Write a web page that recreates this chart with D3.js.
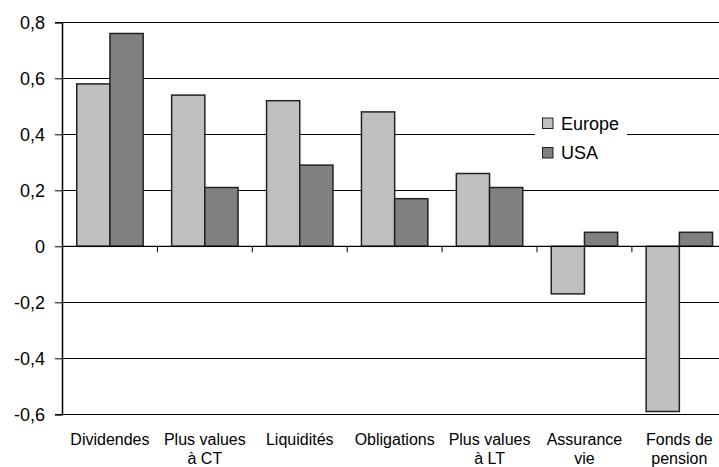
<!DOCTYPE html>
<html>
<head>
<meta charset="utf-8">
<script src="https://cdn.jsdelivr.net/npm/d3@7"></script>
<style>
  html, body { margin: 0; padding: 0; background: #fff; }
  svg { display: block; font-family: "Liberation Sans", Arial, sans-serif; }
</style>
</head>
<body>
<svg id="chart" width="719" height="467"></svg>
<script>
const categories = [
  ["Dividendes"],
  ["Plus values", "à CT"],
  ["Liquidités"],
  ["Obligations"],
  ["Plus values", "à LT"],
  ["Assurance", "vie"],
  ["Fonds de", "pension"]
];
const seriesNames = ["Europe", "USA"];
const europe = [0.58, 0.54, 0.52, 0.48, 0.26, -0.17, -0.59];
const usa    = [0.76, 0.21, 0.29, 0.17, 0.21, 0.05, 0.05];
const yTicks = [0.8, 0.6, 0.4, 0.2, 0, -0.2, -0.4, -0.6];
const colors = ["#c0c0c0", "#808080"];

const svg = d3.select("#chart");
const x0 = 62.5, step = 94.9;
const x = d3.scaleBand()
  .domain(d3.range(categories.length))
  .range([x0, x0 + step * categories.length])
  .paddingInner(0).paddingOuter(0);
const xs = d3.scaleBand().domain([0, 1]).range([14.25, step - 14.25]);
const y = d3.scaleLinear().domain([-0.6, 0.8]).range([414.3, 22.3]);

const fmt = v => v === 0 ? "0" : d3.format(".1f")(v).replace(".", ",").replace("−", "-");

// gridlines
svg.append("g").selectAll("line").data(yTicks).join("line")
  .attr("x1", x0).attr("x2", 719)
  .attr("y1", d => Math.round(y(d)) + 0.5).attr("y2", d => Math.round(y(d)) + 0.5)
  .attr("stroke", "#000").attr("stroke-width", 1);

// y axis
const yAxis = d3.axisLeft(y).tickValues(yTicks).tickSize(7).tickPadding(10).tickFormat(fmt);
const gy = svg.append("g").attr("transform", `translate(${x0 - 0.5},0)`).call(yAxis);
gy.select(".domain").attr("stroke", "#000").attr("stroke-width", 1.5);
gy.selectAll(".tick line").attr("stroke", "#000");
gy.selectAll(".tick text").attr("font-size", 18).attr("fill", "#000")
  .attr("font-family", "Liberation Sans, Arial, sans-serif");

// bars
const data = [europe, usa];
const groups = svg.append("g").selectAll("g").data(data).join("g")
  .attr("fill", (d, i) => colors[i]);
groups.each(function(vals, si) {
  d3.select(this).selectAll("rect").data(vals).join("rect")
    .attr("x", (v, i) => x(i) + xs(si))
    .attr("width", xs.bandwidth())
    .attr("y", v => y(Math.max(0, v)))
    .attr("height", v => Math.abs(y(v) - y(0)))
    .attr("stroke", "#222").attr("stroke-width", 1.5);
});

// zero axis with category ticks
svg.append("line").attr("x1", x0).attr("x2", 719)
  .attr("y1", y(0)).attr("y2", y(0)).attr("stroke", "#000").attr("stroke-width", 1.2);
svg.append("g").selectAll("line").data(d3.range(1, categories.length + 1)).join("line")
  .attr("x1", i => x0 + i * step).attr("x2", i => x0 + i * step)
  .attr("y1", y(0)).attr("y2", y(0) + 6).attr("stroke", "#000");

// category labels
const lab = svg.append("g").selectAll("text").data(categories).join("text")
  .attr("text-anchor", "middle").attr("font-size", 16).attr("fill", "#000")
  .attr("x", (d, i) => x(i) + step / 2).attr("y", 444.5);
lab.selectAll("tspan").data(d => d).join("tspan")
  .attr("x", function() { return d3.select(this.parentNode).attr("x"); })
  .attr("dy", (d, i) => i === 0 ? 0 : 19)
  .text(d => d);

// legend
const lg = svg.append("g");
lg.append("rect").attr("x", 535).attr("y", 108).attr("width", 92).attr("height", 60).attr("fill", "#fff");
seriesNames.forEach((name, i) => {
  lg.append("rect").attr("x", 542.5).attr("y", 118 + i * 29.5).attr("width", 10.5).attr("height", 10.5)
    .attr("fill", colors[i]).attr("stroke", "#222").attr("stroke-width", 1);
  lg.append("text").attr("x", 561).attr("y", 129.5 + i * 29.5).attr("font-size", 18).attr("fill", "#000").text(name);
});
</script>
</body>
</html>
